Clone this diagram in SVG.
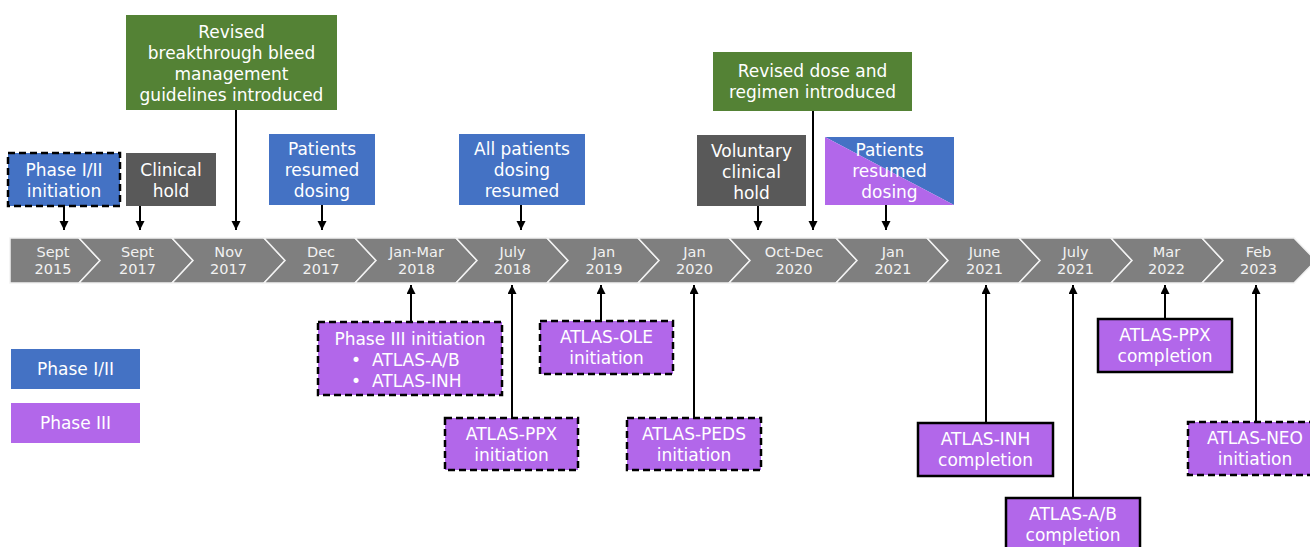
<svg xmlns="http://www.w3.org/2000/svg" width="1310" height="547" viewBox="0 0 1310 547">
<style>
.t{font-family:"DejaVu Sans",Verdana,sans-serif;font-size:17px;fill:#ffffff;text-anchor:middle}
.tl{font-family:"DejaVu Sans",Verdana,sans-serif;font-size:14.5px;fill:#f2f2f2;text-anchor:middle}
.seg{fill:#7f7f7f;stroke:#f2f2f2;stroke-width:1.5}
.blue{fill:#4472c4}
.green{fill:#548235}
.gray{fill:#595959}
.purple{fill:#b267ea}
.dash{stroke:#000;stroke-width:2.5;stroke-dasharray:7 4}
.solid{stroke:#000;stroke-width:2.5}
.c{stroke:#000;stroke-width:2;fill:none}
</style>
<defs>
<marker id="ah" markerUnits="userSpaceOnUse" markerWidth="10" markerHeight="10" refX="9" refY="4.5" orient="auto">
<path d="M0,0 L9,4.5 L0,9 z" fill="#000"/>
</marker>
</defs>
<rect width="1310" height="547" fill="#ffffff"/>

<g id="timeline">
<polygon class="seg" points="10,238 79,238 100,260.5 79,283 10,283"/>
<polygon class="seg" points="79,238 172,238 193,260.5 172,283 79,283 100,260.5"/>
<polygon class="seg" points="172,238 264,238 285,260.5 264,283 172,283 193,260.5"/>
<polygon class="seg" points="264,238 355,238 376,260.5 355,283 264,283 285,260.5"/>
<polygon class="seg" points="355,238 456,238 477,260.5 456,283 355,283 376,260.5"/>
<polygon class="seg" points="456,238 547,238 568,260.5 547,283 456,283 477,260.5"/>
<polygon class="seg" points="547,238 638,238 659,260.5 638,283 547,283 568,260.5"/>
<polygon class="seg" points="638,238 729,238 750,260.5 729,283 638,283 659,260.5"/>
<polygon class="seg" points="729,238 836,238 857,260.5 836,283 729,283 750,260.5"/>
<polygon class="seg" points="836,238 927,238 948,260.5 927,283 836,283 857,260.5"/>
<polygon class="seg" points="927,238 1019,238 1040,260.5 1019,283 927,283 948,260.5"/>
<polygon class="seg" points="1019,238 1111,238 1132,260.5 1111,283 1019,283 1040,260.5"/>
<polygon class="seg" points="1111,238 1202,238 1223,260.5 1202,283 1111,283 1132,260.5"/>
<polygon class="seg" points="1202,238 1294,238 1316,260.5 1294,283 1202,283 1223,260.5"/>
<text class="tl" x="53" y="257">Sept</text><text class="tl" x="53" y="273.5">2015</text>
<text class="tl" x="137.5" y="257">Sept</text><text class="tl" x="137.5" y="273.5">2017</text>
<text class="tl" x="228.5" y="257">Nov</text><text class="tl" x="228.5" y="273.5">2017</text>
<text class="tl" x="321" y="257">Dec</text><text class="tl" x="321" y="273.5">2017</text>
<text class="tl" x="416.5" y="257">Jan-Mar</text><text class="tl" x="416.5" y="273.5">2018</text>
<text class="tl" x="512.5" y="257">July</text><text class="tl" x="512.5" y="273.5">2018</text>
<text class="tl" x="604" y="257">Jan</text><text class="tl" x="604" y="273.5">2019</text>
<text class="tl" x="694.5" y="257">Jan</text><text class="tl" x="694.5" y="273.5">2020</text>
<text class="tl" x="794" y="257">Oct-Dec</text><text class="tl" x="794" y="273.5">2020</text>
<text class="tl" x="893" y="257">Jan</text><text class="tl" x="893" y="273.5">2021</text>
<text class="tl" x="984.5" y="257">June</text><text class="tl" x="984.5" y="273.5">2021</text>
<text class="tl" x="1075.5" y="257">July</text><text class="tl" x="1075.5" y="273.5">2021</text>
<text class="tl" x="1166.5" y="257">Mar</text><text class="tl" x="1166.5" y="273.5">2022</text>
<text class="tl" x="1258.5" y="257">Feb</text><text class="tl" x="1258.5" y="273.5">2023</text>
</g>

<g id="connectors">
<line class="c" x1="64" y1="206" x2="64" y2="230" marker-end="url(#ah)"/>
<line class="c" x1="140" y1="206" x2="140" y2="230" marker-end="url(#ah)"/>
<line class="c" x1="236" y1="110" x2="236" y2="230" marker-end="url(#ah)"/>
<line class="c" x1="322" y1="205" x2="322" y2="230" marker-end="url(#ah)"/>
<line class="c" x1="521" y1="205" x2="521" y2="230" marker-end="url(#ah)"/>
<line class="c" x1="758" y1="206" x2="758" y2="230" marker-end="url(#ah)"/>
<line class="c" x1="813" y1="111" x2="813" y2="230" marker-end="url(#ah)"/>
<line class="c" x1="886" y1="205" x2="886" y2="230" marker-end="url(#ah)"/>
<line class="c" x1="411" y1="322" x2="411" y2="285" marker-end="url(#ah)"/>
<line class="c" x1="512" y1="418" x2="512" y2="285" marker-end="url(#ah)"/>
<line class="c" x1="601" y1="321" x2="601" y2="285" marker-end="url(#ah)"/>
<line class="c" x1="694" y1="418" x2="694" y2="285" marker-end="url(#ah)"/>
<line class="c" x1="986" y1="423" x2="986" y2="285" marker-end="url(#ah)"/>
<line class="c" x1="1073" y1="498" x2="1073" y2="285" marker-end="url(#ah)"/>
<line class="c" x1="1165" y1="319" x2="1165" y2="285" marker-end="url(#ah)"/>
<line class="c" x1="1256" y1="422" x2="1256" y2="285" marker-end="url(#ah)"/>
</g>

<g id="phase12-init">
<rect class="blue dash" x="8" y="153" width="112" height="53"/>
<text class="t" x="64" y="176">Phase I/II</text><text class="t" x="64" y="197">initiation</text>
</g>
<g id="clinical-hold">
<rect class="gray" x="126" y="153" width="90" height="53"/>
<text class="t" x="171" y="176">Clinical</text><text class="t" x="171" y="197">hold</text>
</g>
<g id="revised-bleed">
<rect class="green" x="126" y="15" width="211" height="95"/>
<text class="t" x="231.5" y="38">Revised</text>
<text class="t" x="231.5" y="59">breakthrough bleed</text>
<text class="t" x="231.5" y="80">management</text>
<text class="t" x="231.5" y="101">guidelines introduced</text>
</g>
<g id="resumed-2017">
<rect class="blue" x="269" y="134" width="106" height="71"/>
<text class="t" x="322" y="155">Patients</text><text class="t" x="322" y="176">resumed</text><text class="t" x="322" y="197">dosing</text>
</g>
<g id="all-resumed">
<rect class="blue" x="459" y="134" width="126" height="71"/>
<text class="t" x="522" y="155">All patients</text><text class="t" x="522" y="176">dosing</text><text class="t" x="522" y="197">resumed</text>
</g>
<g id="revised-dose">
<rect class="green" x="713" y="52" width="199" height="59"/>
<text class="t" x="812.5" y="77">Revised dose and</text><text class="t" x="812.5" y="98">regimen introduced</text>
</g>
<g id="voluntary-hold">
<rect class="gray" x="697" y="135" width="109" height="71"/>
<text class="t" x="751.5" y="157">Voluntary</text><text class="t" x="751.5" y="178">clinical</text><text class="t" x="751.5" y="199">hold</text>
</g>
<g id="resumed-2021">
<polygon class="blue" points="825,137 954,137 954,205"/>
<polygon class="purple" points="825,137 954,205 825,205"/>
<text class="t" x="889.5" y="156">Patients</text><text class="t" x="889.5" y="177">resumed</text><text class="t" x="889.5" y="198">dosing</text>
</g>

<g id="legend-phase12">
<rect class="blue" x="11" y="349" width="129" height="40"/>
<text class="t" x="75.5" y="375">Phase I/II</text>
</g>
<g id="legend-phase3">
<rect class="purple" x="11" y="403" width="129" height="40"/>
<text class="t" x="75.5" y="429">Phase III</text>
</g>

<g id="phase3-init">
<rect class="purple dash" x="318" y="322" width="184" height="73"/>
<text class="t" x="410" y="344.5">Phase III initiation</text>
<text class="t" x="356" y="365.5">•</text><text class="t" x="372" y="365.5" style="text-anchor:start">ATLAS-A/B</text>
<text class="t" x="356" y="386.5">•</text><text class="t" x="372" y="386.5" style="text-anchor:start">ATLAS-INH</text>
</g>
<g id="ole-init">
<rect class="purple dash" x="540" y="321" width="133" height="53"/>
<text class="t" x="606.5" y="343">ATLAS-OLE</text><text class="t" x="606.5" y="364">initiation</text>
</g>
<g id="ppx-init">
<rect class="purple dash" x="445" y="418" width="133" height="52"/>
<text class="t" x="511.5" y="439.5">ATLAS-PPX</text><text class="t" x="511.5" y="460.5">initiation</text>
</g>
<g id="peds-init">
<rect class="purple dash" x="627" y="418" width="134" height="52"/>
<text class="t" x="694" y="439.5">ATLAS-PEDS</text><text class="t" x="694" y="460.5">initiation</text>
</g>
<g id="inh-completion">
<rect class="purple solid" x="918" y="423" width="135" height="53"/>
<text class="t" x="985.5" y="445">ATLAS-INH</text><text class="t" x="985.5" y="466">completion</text>
</g>
<g id="ab-completion">
<rect class="purple solid" x="1006" y="498" width="134" height="55"/>
<text class="t" x="1073" y="520">ATLAS-A/B</text><text class="t" x="1073" y="541">completion</text>
</g>
<g id="ppx-completion">
<rect class="purple solid" x="1098" y="319" width="134" height="53"/>
<text class="t" x="1165" y="341">ATLAS-PPX</text><text class="t" x="1165" y="362">completion</text>
</g>
<g id="neo-init">
<rect class="purple dash" x="1188" y="422" width="130" height="53"/>
<text class="t" x="1255" y="444">ATLAS-NEO</text><text class="t" x="1255" y="465">initiation</text>
</g>
</svg>
